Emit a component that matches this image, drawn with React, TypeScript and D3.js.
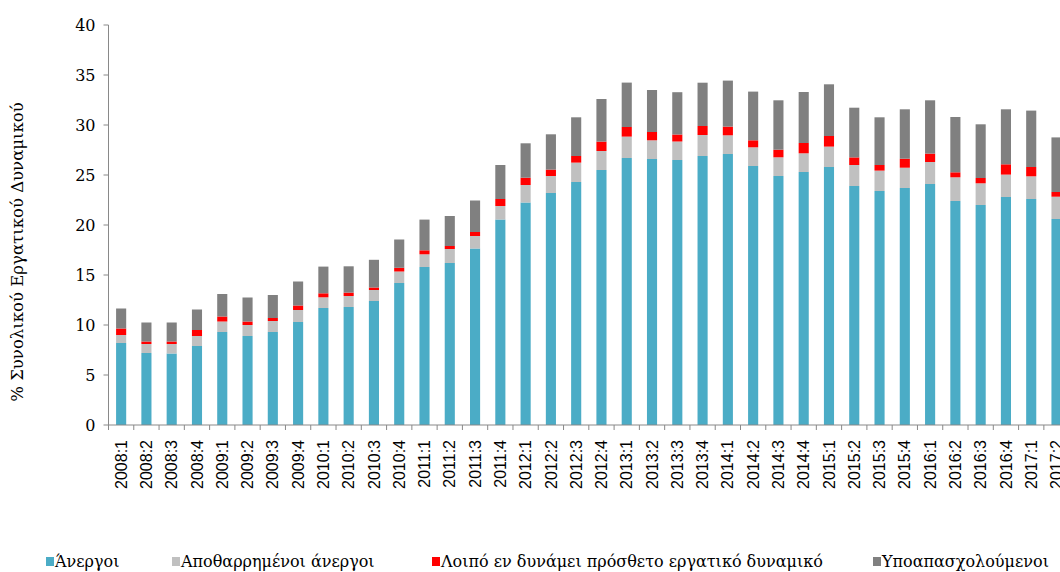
import React from "react";
import * as d3 from "d3";

const quarters = [
  "2008:1", "2008:2", "2008:3", "2008:4",
  "2009:1", "2009:2", "2009:3", "2009:4",
  "2010:1", "2010:2", "2010:3", "2010:4",
  "2011:1", "2011:2", "2011:3", "2011:4",
  "2012:1", "2012:2", "2012:3", "2012:4",
  "2013:1", "2013:2", "2013:3", "2013:4",
  "2014:1", "2014:2", "2014:3", "2014:4",
  "2015:1", "2015:2", "2015:3", "2015:4",
  "2016:1", "2016:2", "2016:3", "2016:4",
  "2017:1", "2017:2",
];

// Άνεργοι
const unemployed = [
  8.2, 7.2, 7.15, 7.9, 9.3, 8.9, 9.3, 10.3, 11.7, 11.8, 12.4, 14.2,
  15.8, 16.2, 17.65, 20.55, 22.25, 23.2, 24.3, 25.5, 26.7, 26.6, 26.5, 26.9,
  27.1, 25.9, 24.9, 25.3, 25.8, 23.9, 23.4, 23.7, 24.1, 22.4, 22.0, 22.8,
  22.6, 20.6,
];

// Αποθαρρημένοι άνεργοι
const discouraged = [
  0.8, 0.9, 0.95, 1.0, 1.05, 1.1, 1.1, 1.2, 1.07, 1.1, 1.1, 1.15,
  1.27, 1.4, 1.25, 1.35, 1.75, 1.7, 1.94, 1.9, 2.14, 1.87, 1.85, 2.1,
  1.87, 1.87, 1.87, 1.87, 2.04, 2.1, 2.04, 2.03, 2.2, 2.37, 2.17, 2.24,
  2.27, 2.23,
];

// Λοιπό εν δυνάμει πρόσθετο εργατικό δυναμικό
const potential = [
  0.65, 0.25, 0.25, 0.6, 0.5, 0.35, 0.3, 0.45, 0.4, 0.34, 0.25, 0.37,
  0.4, 0.3, 0.4, 0.7, 0.73, 0.64, 0.66, 0.94, 0.96, 0.83, 0.7, 0.9,
  0.87, 0.7, 0.76, 1.03, 1.06, 0.76, 0.56, 0.9, 0.84, 0.5, 0.53, 1.03,
  0.93, 0.47,
];

// Υποαπασχολούμενοι
const underemployed = [
  2.0, 1.9, 1.9, 2.05, 2.25, 2.4, 2.3, 2.4, 2.67, 2.63, 2.77, 2.83,
  3.07, 3.0, 3.15, 3.4, 3.44, 3.53, 3.87, 4.26, 4.44, 4.2, 4.23, 4.33,
  4.6, 4.87, 4.94, 5.1, 5.17, 4.97, 4.77, 4.94, 5.33, 5.53, 5.37, 5.5,
  5.64, 5.46,
];

const seriesNames = [
  "Άνεργοι",
  "Αποθαρρημένοι άνεργοι",
  "Λοιπό εν δυνάμει πρόσθετο εργατικό δυναμικό",
  "Υποαπασχολούμενοι",
];
const colors = ["#4bacc6", "#c0c0c0", "#ff0000", "#808080"];
const yTicks = [0, 5, 10, 15, 20, 25, 30, 35, 40];
const yTitle = "% Συνολικού Εργατικού Δυναμικού";

const W = 1060;
const H = 572;
const axisColor = "#898989";
const serif = "'DejaVu Serif', serif";

export default function App() {
  const keys = ["u", "d", "p", "s"];
  const rows = quarters.map((q, i) => ({
    q,
    u: unemployed[i],
    d: discouraged[i],
    p: potential[i],
    s: underemployed[i],
  }));
  const stacked = d3.stack<any>().keys(keys)(rows);

  // plot runs past the right edge, last bar is clipped like in the original
  const step = 25.28;
  const x0 = 108.5;
  const x = d3
    .scaleBand()
    .domain(quarters)
    .range([x0, x0 + step * quarters.length])
    .paddingInner(0.6)
    .paddingOuter(0.3);

  const y = d3.scaleLinear().domain([0, 40]).range([425, 25]);

  const legendX = [46, 172, 432, 873];

  return (
    <svg
      width={W}
      height={H}
      style={{ position: "absolute", left: 0, top: 0, background: "#fff" }}
    >
      {/* bars */}
      {stacked.map((layer, li) => (
        <g key={li} fill={colors[li]}>
          {layer.map((d, i) => (
            <rect
              key={i}
              x={x(quarters[i])}
              width={x.bandwidth()}
              y={y(d[1])}
              height={y(d[0]) - y(d[1])}
            />
          ))}
        </g>
      ))}

      {/* y axis */}
      <line x1={x0} x2={x0} y1={y(40)} y2={y(0)} stroke={axisColor} />
      {yTicks.map((t) => (
        <g key={t} transform={`translate(0,${y(t)})`}>
          <line x1={x0 - 5} x2={x0} stroke={axisColor} />
          <text
            x={x0 - 13}
            dy="0.35em"
            textAnchor="end"
            fontFamily={serif}
            fontSize={16}
            fill="#000"
          >
            {t}
          </text>
        </g>
      ))}
      <text
        transform={`translate(23,252) rotate(-90)`}
        textAnchor="middle"
        fontFamily={serif}
        fontSize={16.5}
        fill="#000"
      >
        {yTitle}
      </text>

      {/* x axis */}
      <line x1={x0} x2={W} y1={y(0)} y2={y(0)} stroke={axisColor} />
      {d3.range(quarters.length + 1).map((k) => (
        <line
          key={k}
          x1={x0 + k * step}
          x2={x0 + k * step}
          y1={y(0)}
          y2={y(0) + 5}
          stroke={axisColor}
        />
      ))}
      {quarters.map((q) => (
        <text
          key={q}
          transform={`translate(${x(q)! + x.bandwidth() / 2},440) rotate(-90)`}
          dy="0.35em"
          textAnchor="end"
          fontFamily="'Liberation Sans', Arial, sans-serif"
          fontSize={16}
          fill="#000"
        >
          {q}
        </text>
      ))}

      {/* legend */}
      {seriesNames.map((name, i) => (
        <g key={name} transform={`translate(${legendX[i]},557)`}>
          <rect width={8} height={9} fill={colors[i]} />
          <text
            x={9}
            y={10}
            fontFamily={serif}
            fontSize={16}
            fill="#000"
          >
            {name}
          </text>
        </g>
      ))}
    </svg>
  );
}
